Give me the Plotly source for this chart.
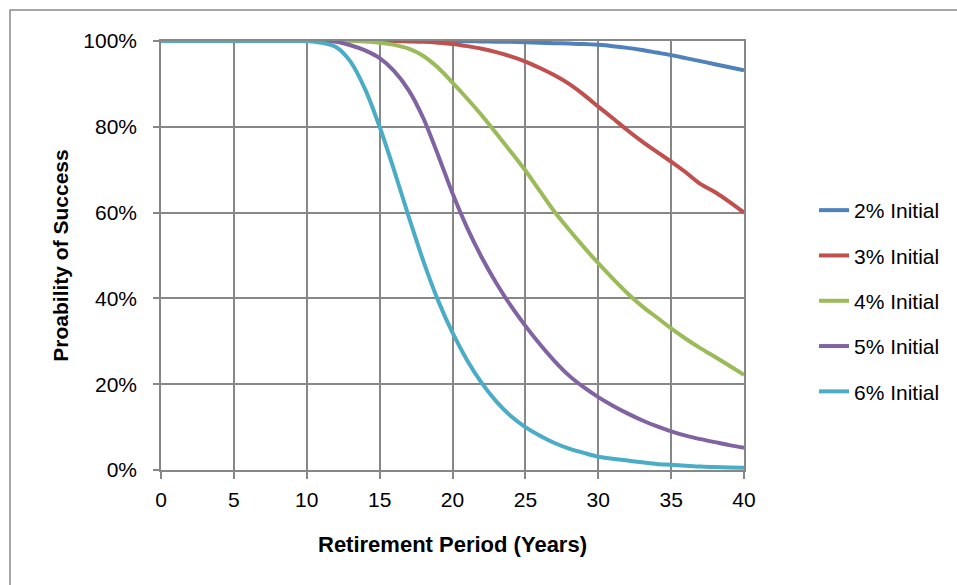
import plotly.graph_objects as go

years = list(range(0, 41))

names = ["2% Initial", "3% Initial", "4% Initial", "5% Initial", "6% Initial"]

rate_2 = [100]*21 + [99.95, 99.9, 99.85, 99.8, 99.7, 99.6, 99.5, 99.4, 99.3, 99.1,
                     98.8, 98.4, 97.9, 97.3, 96.7, 96.0, 95.3, 94.6, 93.9, 93.2]
rate_3 = [100]*17 + [99.9, 99.8, 99.6, 99.3, 98.8, 98.2, 97.4, 96.4, 95.2, 93.7,
                     92.0, 90.0, 87.5, 84.7, 82.0, 79.2, 76.6, 74.2, 71.9, 69.4,
                     66.7, 64.8, 62.5, 60.0]
rate_4 = [100]*14 + [99.9, 99.6, 99.1, 98.2, 96.5, 93.8, 90.3, 86.6, 82.7, 78.5,
                     74.2, 69.8, 65.0, 60.2, 56.0, 52.0, 48.2, 44.6, 41.2, 38.2,
                     35.6, 33.0, 30.6, 28.4, 26.4, 24.3, 22.2]
rate_5 = [100]*12 + [99.8, 99.0, 97.8, 96.0, 93.0, 88.5, 82.0, 73.5, 64.5, 56.5,
                     49.6, 43.6, 38.3, 33.6, 29.3, 25.4, 22.0, 19.3, 17.0, 15.0,
                     13.2, 11.6, 10.2, 9.0, 8.0, 7.2, 6.5, 5.8, 5.2]
rate_6 = [100]*11 + [99.6, 98.6, 95.2, 88.8, 80.0, 69.8, 59.0, 48.7, 39.6, 32.0,
                     25.6, 20.3, 16.0, 12.6, 10.0, 8.0, 6.3, 5.0, 4.0, 3.1,
                     2.6, 2.2, 1.8, 1.4, 1.2, 1.0, 0.8, 0.7, 0.6, 0.5]

series = [rate_2, rate_3, rate_4, rate_5, rate_6]
colors = ["#4F81BD", "#C0504D", "#9BBB59", "#8064A2", "#4BACC6"]

x_ticks = [0, 5, 10, 15, 20, 25, 30, 35, 40]
y_ticks = [0, 20, 40, 60, 80, 100]

FONT = "Liberation Sans, Arial, sans-serif"
GRID = "#878787"

fig = go.Figure()
for i, (nm, vals, col) in enumerate(zip(names, series, colors)):
    fig.add_trace(go.Scatter(
        x=years, y=vals, name=nm, mode="lines",
        line=dict(color=col, width=4, shape="spline", smoothing=0.8),
        legendgroup=f"g{i}",
    ))

L, R, T, B = 161, 213, 41, 115
pw = 957 - L - R
ph = 585 - T - B

def px_to_paper_x(p):
    return (p - L) / pw

def px_to_paper_y(p):
    return (585 - B - p) / ph

fig.add_shape(type="rect", xref="paper", yref="paper",
              x0=px_to_paper_x(10), x1=px_to_paper_x(990),
              y0=px_to_paper_y(620), y1=px_to_paper_y(10),
              line=dict(color="#8a8a8a", width=1.5), fillcolor="rgba(0,0,0,0)",
              layer="below")

fig.update_layout(
    width=957, height=585,
    margin=dict(l=L, r=R, t=T, b=B),
    paper_bgcolor="white", plot_bgcolor="white",
    font=dict(family=FONT, size=21, color="#000000"),
    showlegend=True,
    legend=dict(x=px_to_paper_x(814), y=px_to_paper_y(301), xanchor="left", yanchor="middle",
                font=dict(family=FONT, size=21, color="#000000"),
                tracegroupgap=15, bgcolor="rgba(0,0,0,0)"),
    xaxis=dict(
        range=[0, 40], tickvals=x_ticks, ticktext=[str(v) for v in x_ticks],
        showgrid=True, gridcolor=GRID, gridwidth=1.5,
        showline=True, linecolor=GRID, linewidth=1.5, mirror=True,
        ticks="outside", ticklen=7, tickcolor=GRID, tickwidth=1.5,
        zeroline=False, ticklabelstandoff=3,
        title=dict(text="<b>Retirement Period (Years)</b>", standoff=27,
                   font=dict(family=FONT, size=22)),
    ),
    yaxis=dict(
        range=[0, 100], tickvals=y_ticks, ticktext=[f"{v}%" for v in y_ticks],
        showgrid=True, gridcolor=GRID, gridwidth=1.5,
        showline=True, linecolor=GRID, linewidth=1.5, mirror=True,
        ticks="outside", ticklen=6, tickcolor=GRID, tickwidth=1.5,
        zeroline=False, ticklabelstandoff=12,
        title=dict(text="<b>Proability of Success</b>", standoff=9,
                   font=dict(family=FONT, size=21)),
    ),
)

fig.write_html("out.html", config={"displayModeBar": False},
               post_script="document.body.style.margin='0';document.body.style.padding='0';")
